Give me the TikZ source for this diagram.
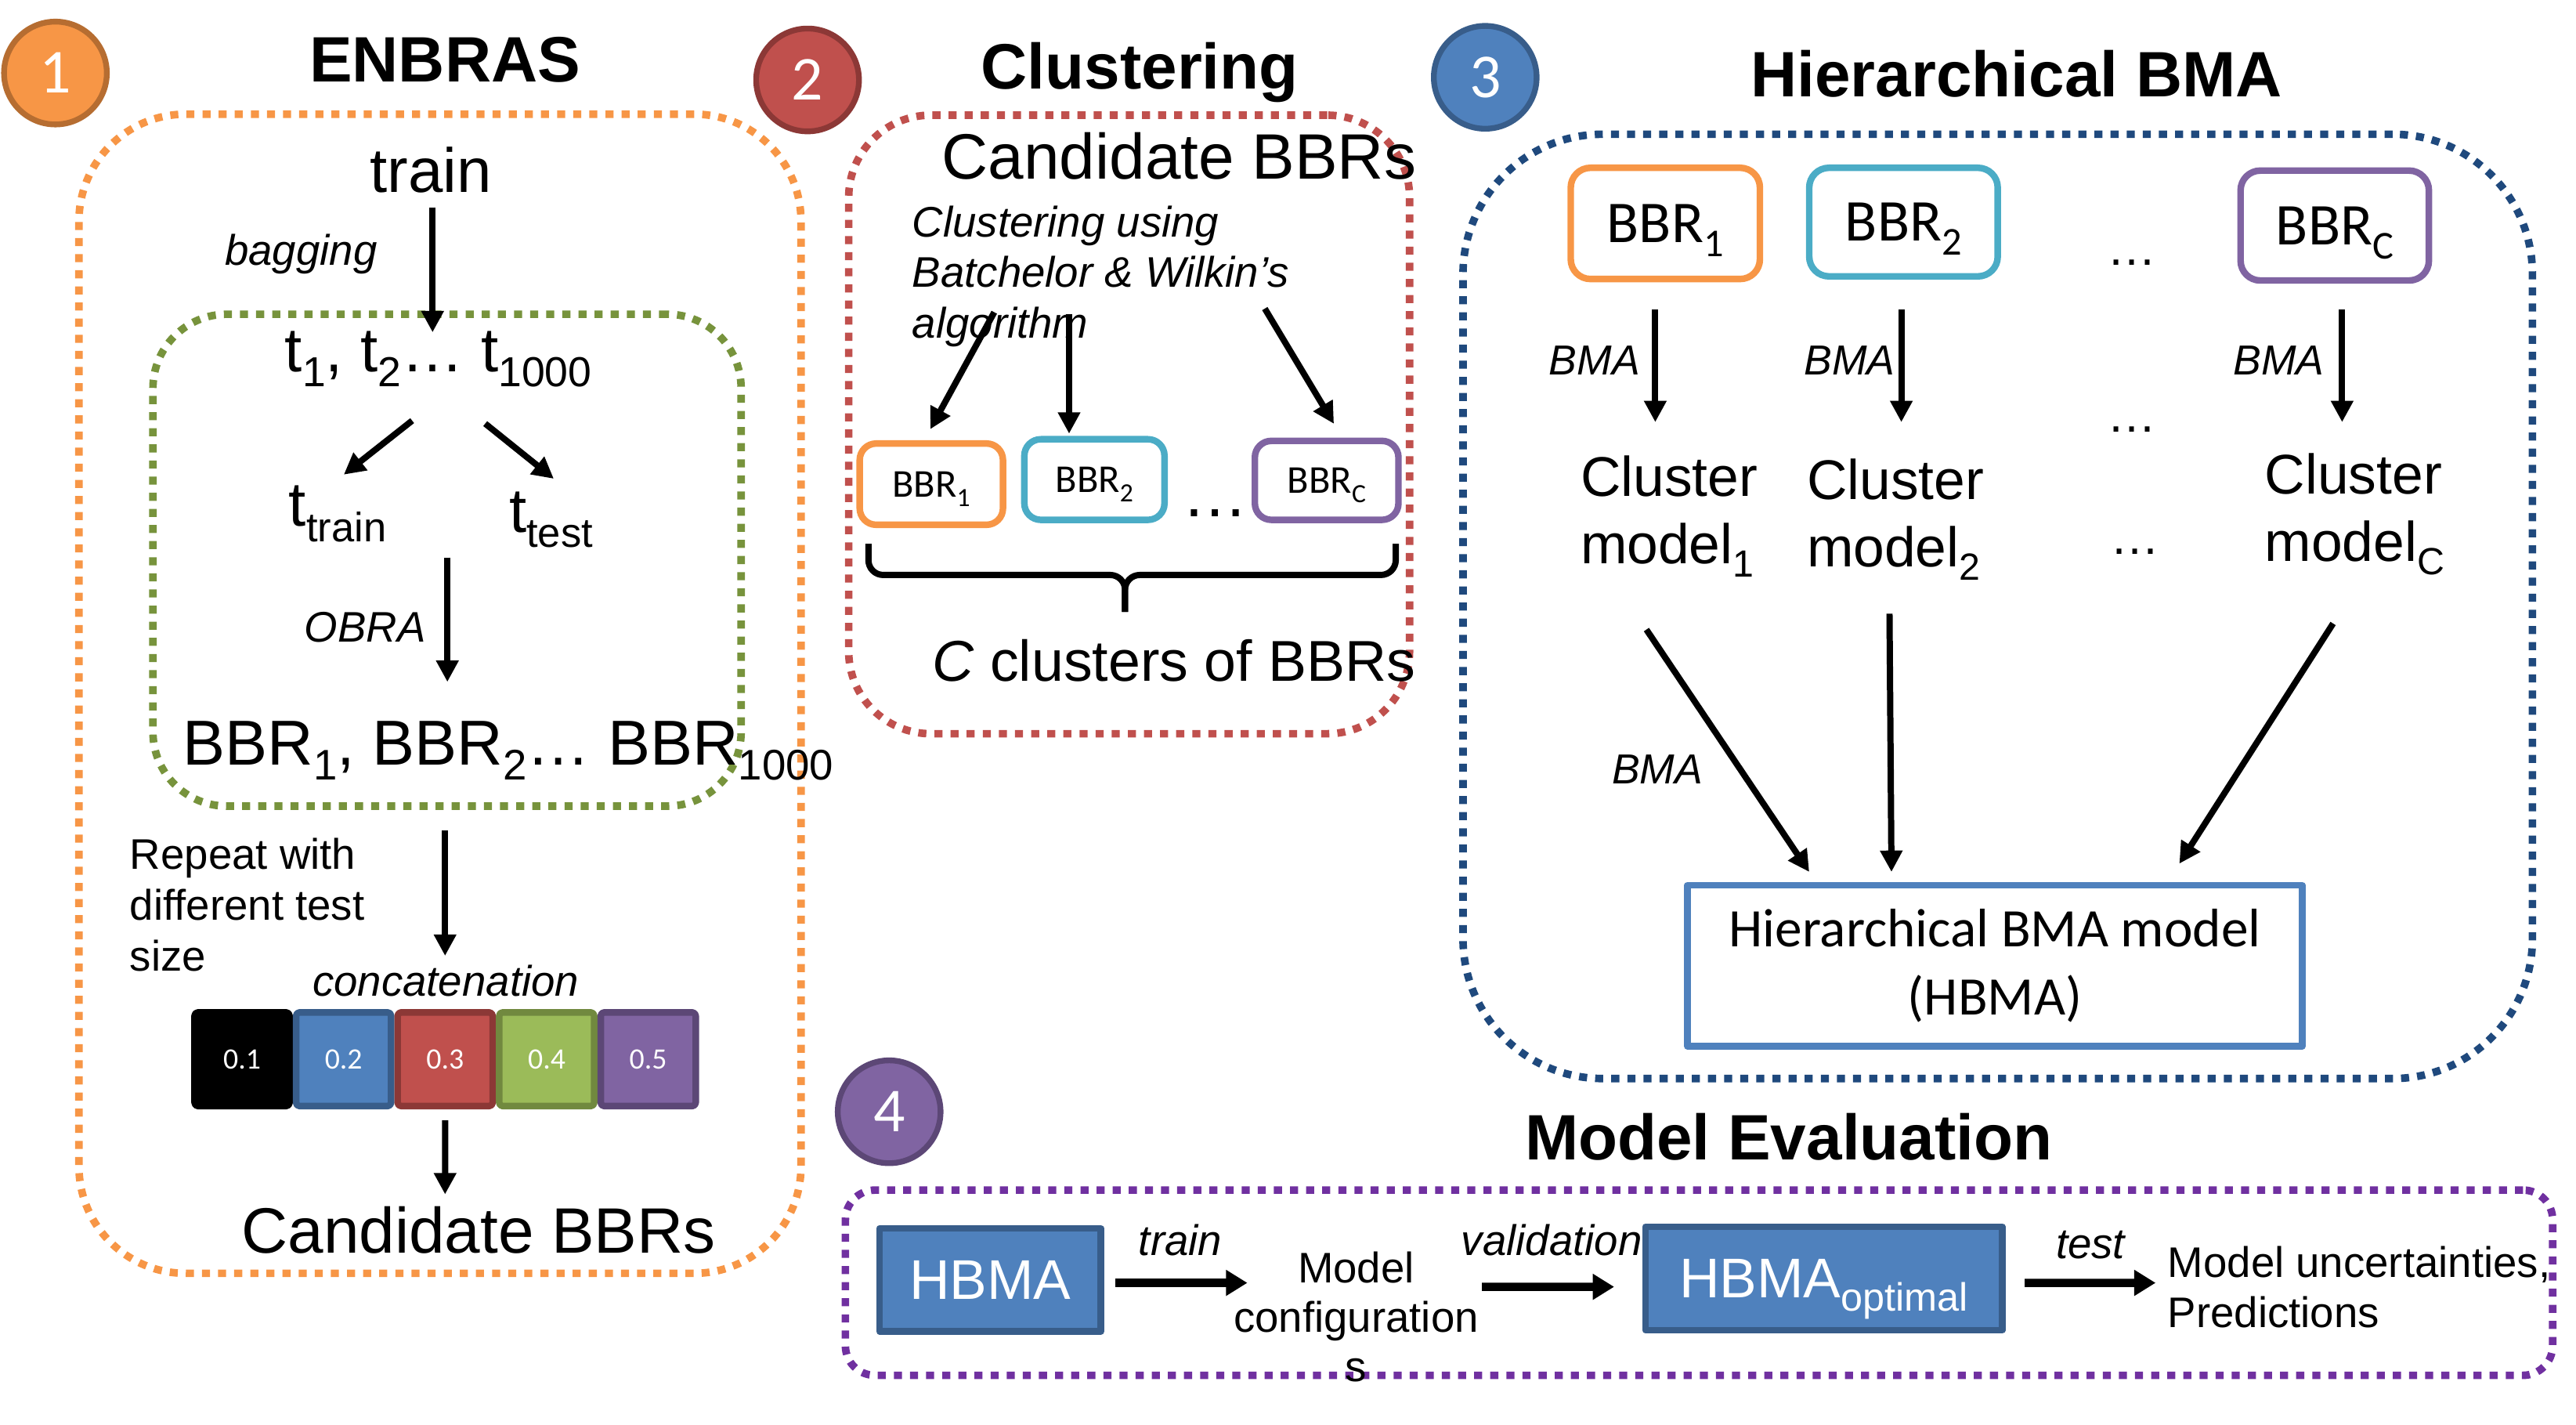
\documentclass[tikz,border=0pt]{standalone}
\usepackage{fontspec}
\setmainfont{Liberation Sans}
\newfontfamily\carl{Carlito}
\usetikzlibrary{arrows.meta,calc}
\definecolor{cOr}{HTML}{F79646}
\definecolor{cOrD}{HTML}{B66D31}
\definecolor{cRe}{HTML}{C0504D}
\definecolor{cReD}{HTML}{8C3836}
\definecolor{cBl}{HTML}{4F81BD}
\definecolor{cBlD}{HTML}{385D8A}
\definecolor{cPu}{HTML}{8064A2}
\definecolor{cPuD}{HTML}{5C4776}
\definecolor{cGr}{HTML}{9BBB59}
\definecolor{cGrD}{HTML}{71893F}
\definecolor{cCy}{HTML}{4BACC6}
\definecolor{dGreen}{HTML}{77933C}
\definecolor{dBlue}{HTML}{1F497D}
\definecolor{dPurple}{HTML}{7030A0}
\newcommand\fs[2]{\fontsize{#1}{#2}\selectfont}
\newcommand\sbs[2]{\raisebox{-0.24em}{\fontsize{#1}{#1}\selectfont #2}}
\begin{document}
\begin{tikzpicture}[x=1pt,y=-1pt,line join=round,
 every node/.style={inner sep=0pt,outer sep=0pt},
 dotbox/.style={draw,rectangle,line width=4.6pt,dash pattern=on 4.9pt off 4.9pt},
 arr/.style={line width=3.8pt,-{Triangle[length=13pt,width=13pt]}},
 bigarr/.style={line width=5pt,-{Triangle[length=13pt,width=15pt]}},
 numc/.style={circle,minimum size=62.5pt,line width=3.5pt,text=white,font=\carl\fs{38}{38}},
 ttl/.style={anchor=base,font=\bfseries\fs{39}{39}},
 big/.style={anchor=base,font=\fs{38}{38}},
 lbl/.style={anchor=base,font=\itshape\fs{26}{26}},
 bmalbl/.style={anchor=base,font=\itshape\fs{25.5}{25.5}},
 dots/.style={anchor=base,font=\fs{30}{30}},
 bbrs/.style={draw,rectangle,rounded corners=10pt,line width=4pt,text depth=0pt,font=\carl\fs{24}{24}},
 bbrl/.style={draw,rectangle,rounded corners=12pt,line width=4pt,text depth=0pt,font=\carl\fs{36}{36}},
 cell/.style={draw,rectangle,rounded corners=2pt,line width=4pt,minimum width=57.74pt,minimum height=56.9pt,text=white,font=\carl\fs{18}{18}},
 bluebox/.style={draw=cBlD,fill=cBl,rectangle,line width=4pt,text=white,text depth=0pt,font=\fs{34}{34}},
 cmod/.style={anchor=north west,align=left,font=\fs{34}{41}},
 bracestyle/.style={line width=3.8pt,rounded corners=9pt}
]
\useasboundingbox (0,0) rectangle (1566.2,866.2);

% dotted frames
\node[dotbox,draw=cOr,rounded corners=65pt,minimum width=439pt,minimum height=704.6pt] (obox) at (267.5,421.7) {};
\node[dotbox,draw=dGreen,rounded corners=45pt,minimum width=357.6pt,minimum height=299pt] (gbox) at (271.8,340.5) {};
\node[dotbox,draw=cRe,rounded corners=50pt,minimum width=341pt,minimum height=376pt] (rbox) at (686.5,258) {};
\node[dotbox,draw=dBlue,rounded corners=85pt,minimum width=650.2pt,minimum height=574pt] (bbox) at (1214.6,368.6) {};
\node[dotbox,draw=dPurple,rounded corners=18pt,minimum width=1038pt,minimum height=112.6pt] (pbox) at (1033,779.7) {};

% numbered circles
\node[numc,fill=cOr,draw=cOrD] (n1) at (33.7,44.4) {1};
\node[numc,fill=cRe,draw=cReD] (n2) at (491,48.6) {2};
\node[numc,fill=cBl,draw=cBlD] (n3) at (903,47) {3};
\node[numc,fill=cPu,draw=cPuD] (n4) at (540.6,675.8) {4};

% titles
\node[ttl] (h1) at (270.5,50) {ENBRAS};
\node[ttl] (h2) at (693,54) {Clustering};
\node[ttl] (h3) at (1226,59) {Hierarchical BMA};
\node[ttl] (h4) at (1087.5,705) {Model Evaluation};

% ---------- section 1
\node[big] (train) at (262,117) {train};
\node[lbl] (bagging) at (183,161) {bagging};
\node[big] (tline) at (266.5,226) {t\sbs{25.5}{1}, t\sbs{25.5}{2}… t\sbs{25.5}{1000}};
\node[big] (ttrain) at (205.3,320) {t\sbs{25}{train}};
\node[big] (ttest) at (335,323.5) {t\sbs{25}{test}};
\node[lbl] (obra) at (222,390.3) {OBRA};
\node[big,font=\fs{38.6}{38.6}] (bbrl) at (309,465) {BBR\sbs{26}{1}, BBR\sbs{26}{2}… BBR\sbs{26}{1000}};
\node[anchor=west,align=left,font=\fs{26}{31}] (repeat) at (79,550) {Repeat with\\different test\\size};
\node[anchor=center,font=\itshape\fs{26}{26}] (concat) at (271,596) {concatenation};
\node[cell,fill=black,draw=black] (c1) at (147.17,643.85) {0.1};
\node[cell,fill=cBl,draw=cBlD] (c2) at (208.91,643.85) {0.2};
\node[cell,fill=cRe,draw=cReD] (c3) at (270.65,643.85) {0.3};
\node[cell,fill=cGr,draw=cGrD] (c4) at (332.39,643.85) {0.4};
\node[cell,fill=cPu,draw=cPuD] (c5) at (394.13,643.85) {0.5};
\node[big,font=\fs{39}{39}] (cand1) at (291,761.5) {Candidate BBRs};

\draw[arr] ($(train.base)+(1,9)$) -- ($(tline.base)+(-3.5,-24)$);
\draw[arr] ($(tline.base)+(-15.9,29.7)$) -- ($(ttrain.base)+(3.7,-31.5)$);
\draw[arr] ($(tline.base)+(28.5,31.5)$) -- ($(ttest.base)+(1.7,-32.5)$);
\draw[arr] ($(obra.base)+(50,-51.4)$) -- ($(bbrl.base)+(-37,-50.5)$);
\draw[arr] ($(gbox.south)+(-1.2,15)$) -- ($(concat.center)+(-0.4,-15)$);
\draw[arr] ($(c3.center)+(0,37.2)$) -- ($(cand1.base)+(-20.4,-35.5)$);

% ---------- section 2
\node[big,font=\fs{39}{39}] (cand2) at (716.9,109) {Candidate BBRs};
\node[anchor=north west,align=left,font=\itshape\fs{26}{30.8}] (clus) at (554.7,125) {Clustering using\\Batchelor \& Wilkin’s\\algorithm};
\node[bbrs,draw=cOr,minimum width=87.1pt,minimum height=49.4pt] (s1) at (566.25,294.3) {BBR\sbs{16}{1}};
\node[bbrs,draw=cCy,minimum width=85.2pt,minimum height=49pt] (s2) at (665.4,291.5) {BBR\sbs{16}{2}};
\node[bbrs,draw=cPu,minimum width=87.3pt,minimum height=48pt] (sc) at (806.6,292) {BBR\sbs{16}{C}};
\node[dots,font=\fs{40}{40}] (sdots) at (739,314) {…};
\node[anchor=base,font=\fs{35}{35}] (ccl) at (713.7,414) {\textit{C} clusters of BBRs};
\draw[bracestyle] (528,330.5) -- (528,349.5) -- (684,349.5) -- (684,372);
\draw[bracestyle] (848.6,330.5) -- (848.6,349.5) -- (684,349.5) -- (684,372);

\draw[arr] ($(clus.north west)+(49.8,64.8)$) -- ($(s1.center)+(-0.65,-33.4)$);
\draw[arr] ($(clus.north west)+(95.3,66)$) -- ($(s2.center)+(-15.4,-27.9)$);
\draw[arr] ($(clus.north west)+(214.3,62.6)$) -- ($(sc.center)+(4.4,-34.4)$);

% ---------- section 3
\node[bbrl,draw=cOr,minimum width=115pt,minimum height=67.6pt] (B1) at (1012.5,135.8) {BBR\sbs{24}{1}};
\node[bbrl,draw=cCy,minimum width=114.6pt,minimum height=66pt] (B2) at (1157.3,135) {BBR\sbs{24}{2}};
\node[bbrl,draw=cPu,minimum width=114.5pt,minimum height=66.8pt] (Bc) at (1419.5,137.1) {BBR\sbs{24}{C}};
\node[dots] (d1) at (1296,161) {…};
\node[dots] (d2) at (1296,262.5) {…};
\node[dots] (d3) at (1298,337) {…};
\node[bmalbl] (m1) at (969.4,227.7) {BMA};
\node[bmalbl] (m2) at (1124.5,227.7) {BMA};
\node[bmalbl] (m3) at (1385.5,227.7) {BMA};
\node[cmod] (cm1) at (961,277) {Cluster\\model\sbs{23}{1}};
\node[cmod] (cm2) at (1098.6,278.7) {Cluster\\model\sbs{23}{2}};
\node[cmod] (cmc) at (1377,275.7) {Cluster\\model\sbs{23}{C}};
\node[bmalbl] (m4) at (1007.7,476.6) {BMA};
\node[draw=cBl,rectangle,line width=4pt,minimum width=373.8pt,minimum height=98pt,align=center,font=\carl\fs{33}{41}] (hb) at (1212.9,587) {Hierarchical BMA model\\(HBMA)};

\draw[arr] ($(B1.center)+(-6.1,52.5)$) -- ($(cm1.north west)+(45.4,-20.4)$);
\draw[arr] ($(B2.center)+(-1.3,53.3)$) -- ($(cm2.north west)+(57.4,-22.1)$);
\draw[arr] ($(Bc.center)+(4.5,51.2)$) -- ($(cmc.north west)+(47,-19.1)$);
\draw[arr] ($(cm1.north west)+(40,105.7)$) -- ($(hb.center)+(-112.9,-57)$);
\draw[arr] ($(cm2.north west)+(50.2,94.3)$) -- ($(hb.center)+(-62.9,-57)$);
\draw[arr] ($(cmc.north west)+(41.5,103.3)$) -- ($(hb.center)+(112.1,-62)$);

% ---------- section 4
\node[bluebox,minimum width=134.7pt,minimum height=62.6pt] (e1) at (602,778) {HBMA};
\node[lbl] (ltrain) at (717.6,763) {train};
\node[anchor=north,align=center,font=\fs{26}{30}] (mc) at (824.5,761) {Model\\configuration\\s};
\node[lbl] (lval) at (943.4,763) {validation};
\node[bluebox,minimum width=217pt,minimum height=63pt] (e2) at (1108.9,777.1) {HBMA\sbs{24}{optimal}};
\node[lbl] (ltest) at (1271,765) {test};
\node[anchor=north west,align=left,font=\fs{26}{30.7}] (mu) at (1318,757.4) {Model uncertainties,\\Predictions};

\draw[bigarr] ($(e1.center)+(76,1.8)$) -- ($(mc.north)+(-66.1,18.8)$);
\draw[bigarr] ($(mc.north)+(76.5,21.2)$) -- ($(e2.center)+(-127.5,5.1)$);
\draw[bigarr] ($(e2.center)+(122.1,2.7)$) -- ($(mu.north west)+(-7.4,22.4)$);
\end{tikzpicture}
\end{document}
